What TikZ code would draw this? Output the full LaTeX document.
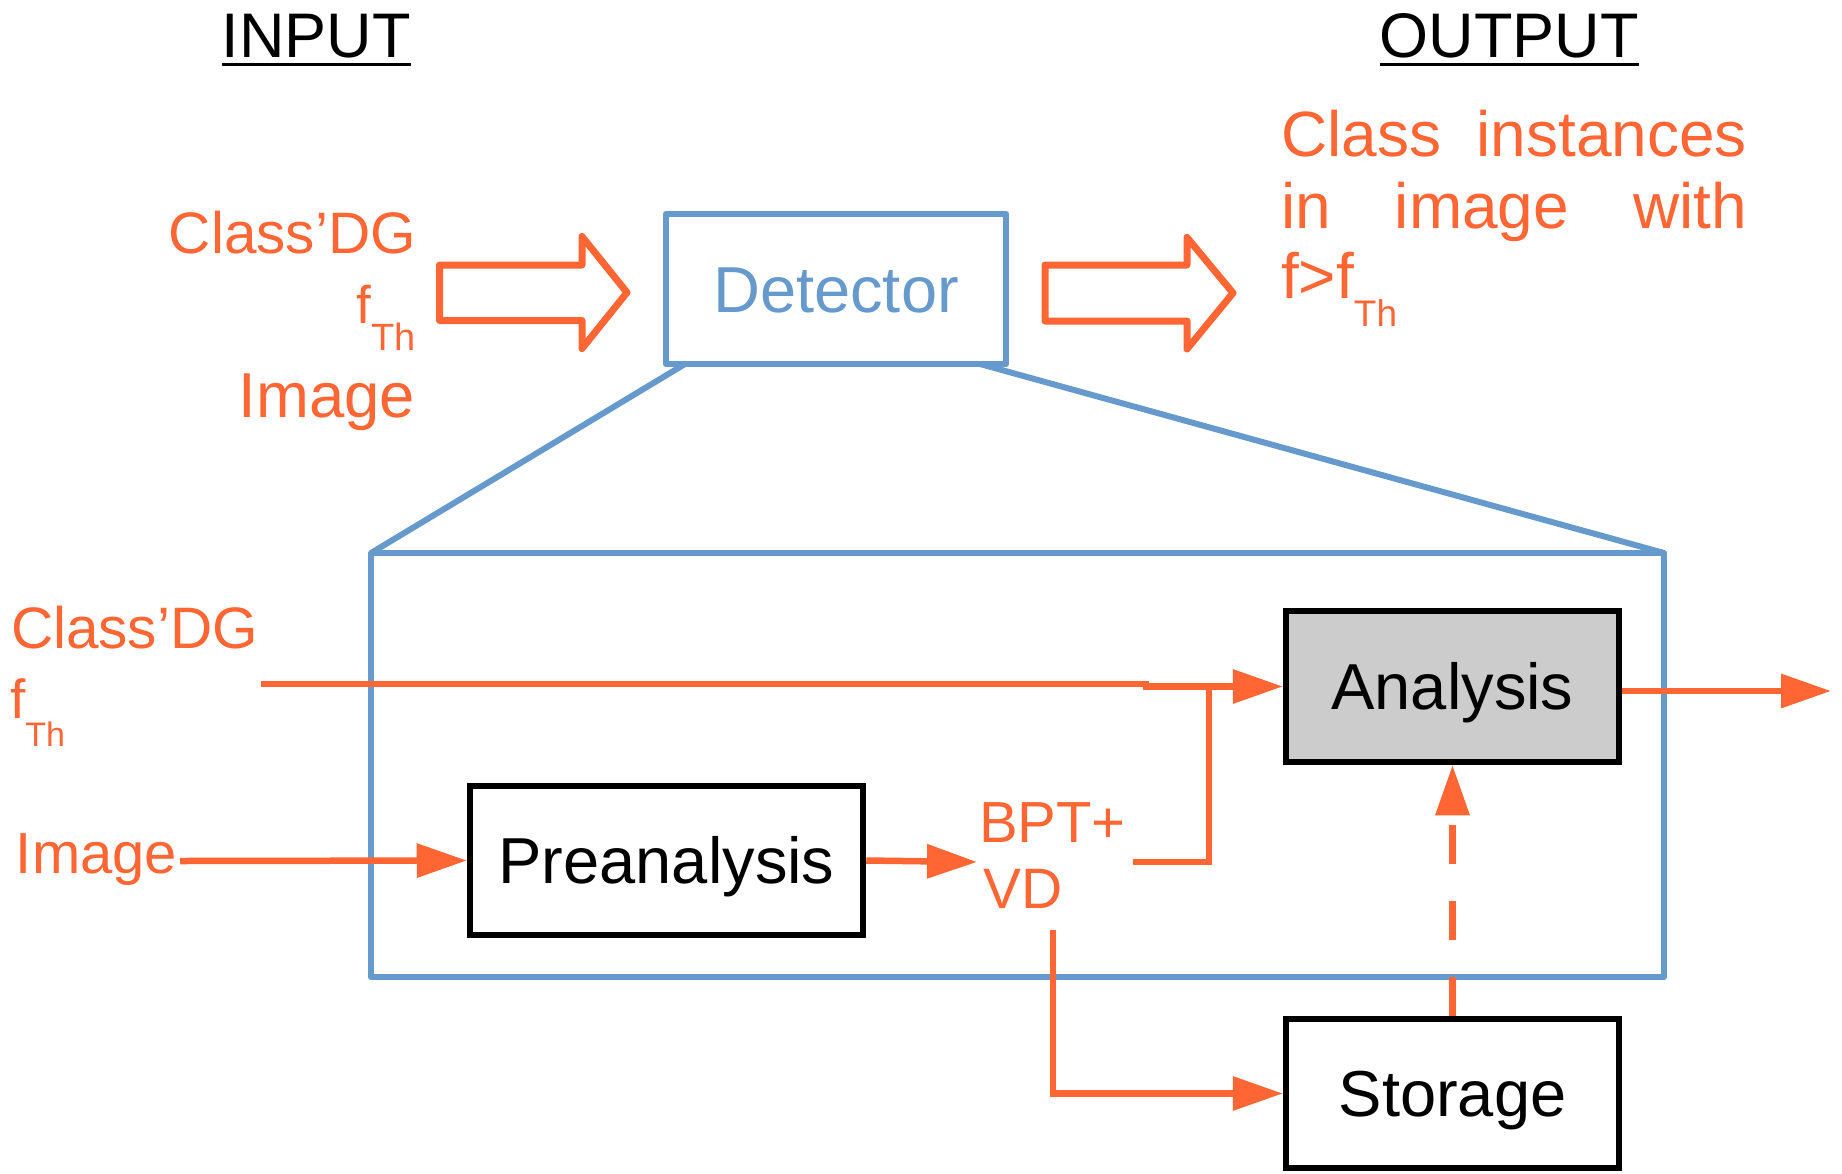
\documentclass[tikz,border=0pt]{standalone}
\usepackage{fontspec}
\setmainfont{Liberation Sans}
\usetikzlibrary{arrows.meta}

\definecolor{flow}{HTML}{FF6633}
\definecolor{frame}{HTML}{6699CC}
\definecolor{panel}{HTML}{CCCCCC}

\newcommand\fsz[1]{\fontsize{#1}{#1}\selectfont}
\newcommand\subTh[2]{\raisebox{-#1pt}{\fsz{#2}Th}}

\tikzset{
  stage/.style={draw=black, line width=6.5pt, inner sep=0pt,
    font=\fsz{65}, text height=46.5pt, text depth=0pt},
  flowtext/.style={text=flow, inner sep=0pt, outer sep=0pt},
  heading/.style={text=black, inner sep=0pt, outer sep=0pt, font=\fsz{63}},
  flowline/.style={draw=flow, line width=6.5pt},
  tip/.style={-{Triangle[length=50pt,width=33pt]}},
  hollow/.style={draw=flow, line width=7pt, line join=round},
  zoomline/.style={draw=frame, line width=6pt, line join=round},
}

\begin{document}
\begin{tikzpicture}[x=1pt, y=-1pt]
\useasboundingbox (0,0) rectangle (1842,1173);

% headings
\node[heading, anchor=base] (inlbl) at (316,57) {INPUT};
\node[heading, anchor=base] (outlbl) at (1509,57) {OUTPUT};
\draw[line width=3pt] ([yshift=-7pt]inlbl.base west) -- ([yshift=-7pt]inlbl.base east);
\draw[line width=3pt] ([yshift=-7pt]outlbl.base west) -- ([yshift=-7pt]outlbl.base east);

% detector overview
\node[zoomline, inner sep=0pt, outer sep=0pt, minimum width=340pt, minimum height=150pt,
      text=frame, font=\fsz{65}, text height=46.5pt, text depth=0pt] (det) at (836,289) {Detector};

% inputs of the detector
\node[flowtext, anchor=base east, font=\fsz{58.5}] (clsA) at (416,253) {Class’DG};
\node[flowtext, anchor=base east, font=\fsz{53}] (fthA) at (416,323) {f\subTh{27}{38}};
\node[flowtext, anchor=base east, font=\fsz{63.5}] (imgA) at (415,417) {Image};

% outputs of the detector
\node[flowtext, anchor=base west, font=\fsz{64}] (outA) at (1281,156) {\makebox[466pt][s]{Class instances}};
\node[flowtext, anchor=base west, font=\fsz{64}] (outB) at (1281,228) {\makebox[466pt][s]{in image with}};
\node[flowtext, anchor=base west, font=\fsz{64}] (outC) at (1281,298) {f>f\subTh{28}{37}};

% block arrows
\draw[hollow] (439.5,265) -- (582,265) -- (582,236.5) -- (627,292.5) -- (582,348.5)
  -- (582,320.5) -- (439.5,320.5) -- cycle;
\draw[hollow] (1045,265) -- (1187,265) -- (1187,237.5) -- (1233,293) -- (1187,349)
  -- (1187,321) -- (1045,321) -- cycle;

% expanded view of the detector
\node[zoomline, outer sep=0pt, minimum width=1293pt, minimum height=424pt] (frm) at (1017.5,765) {};
\draw[zoomline] ([xshift=19pt]det.south west) -- (frm.north west);
\draw[zoomline] ([xshift=-26pt]det.south east) -- (frm.north east);

% processing stages
\node[stage, minimum width=393pt, minimum height=149pt] (pre) at (666.5,860.5) {Preanalysis};
\node[stage, fill=panel, minimum width=333pt, minimum height=151pt] (ana) at (1452.5,686.5) {Analysis};
\node[stage, minimum width=333pt, minimum height=149pt] (sto) at (1452.5,1093.5) {Storage};

% labels inside the expanded view
\node[flowtext, anchor=base west, font=\fsz{58.5}] (clsB) at (11,648) {Class’DG};
\node[flowtext, anchor=base west, font=\fsz{55}] (fthB) at (10,718) {f\subTh{28}{34}};
\node[flowtext, anchor=base west, font=\fsz{58}] (imgB) at (16,873) {Image};
\node[flowtext, anchor=base west, font=\fsz{58}] (bpt) at (979,842) {BPT+};
\node[flowtext, anchor=base west, font=\fsz{57}] (vd) at (983,908) {VD};

% connector end points
\coordinate (clsin) at (261,684);
\coordinate (jog) at (1146,684);
\coordinate (imgin) at (180,861);
\coordinate (bptin) at (977,862);
\coordinate (bptout) at (1133,862);
\coordinate (merge) at (1209,687);
\coordinate (vdout) at (1053,930);
\coordinate (result) at (1831,691);

% data flow
\draw[flowline, tip] (clsin) -- (jog) |- (ana.west);
\draw[flowline] (bptout) -| (merge);
\draw[flowline, tip] (imgin) -- (pre.west);
\draw[flowline, tip] (pre.east) -- (bptin);
\draw[flowline, tip] (vdout) |- (sto.west);
\draw[flowline, tip, dash pattern=on 39pt off 37pt] (sto.north) -- (ana.south);
\draw[flowline, tip] (ana.east |- result) -- (result);
\end{tikzpicture}
\end{document}
